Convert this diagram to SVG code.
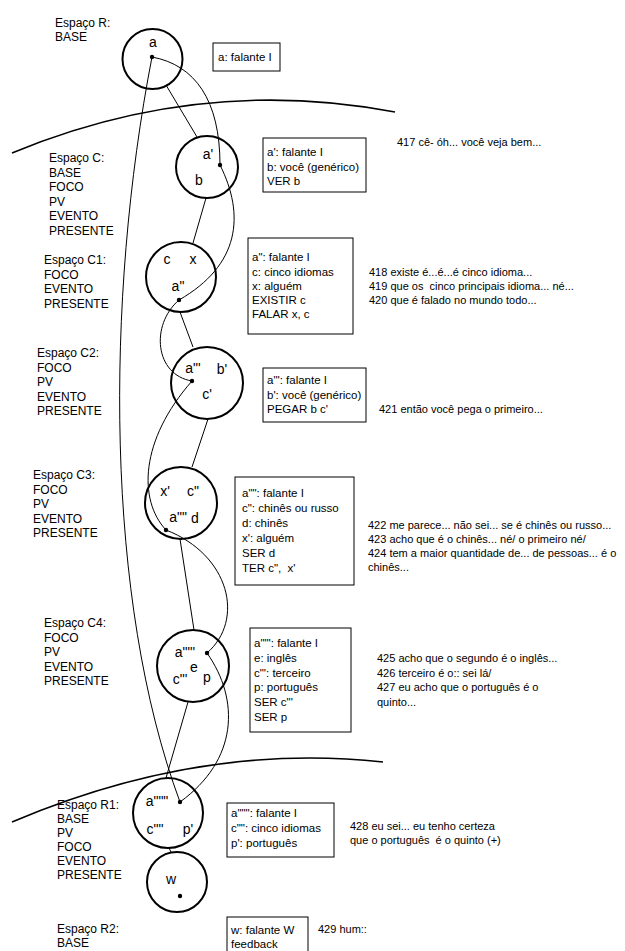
<svg xmlns="http://www.w3.org/2000/svg" width="625" height="951" viewBox="0 0 625 951">
<style>
text{font-family:"Liberation Sans",Arial,sans-serif;fill:#000;white-space:pre}
.lab{font-size:12px}
.box{font-size:11.5px}
.tr{font-size:11px}
.cl{font-size:14px;text-anchor:middle}
.sp{fill:none;stroke:#000;stroke-width:2}
.bx{fill:none;stroke:#000;stroke-width:1}
.arc{fill:none;stroke:#000;stroke-width:1.6}
.cn{fill:none;stroke:#000;stroke-width:1}
.dot{fill:#000}
</style>
<rect width="625" height="951" fill="#fff"/>
<g id="boundaries">
<path class="arc" d="M12,153 Q200,75 395,112"/>
<path class="arc" d="M12,822 Q200,742 383,762"/>
</g>
<g id="connectors">
<path class="cn" d="M152,57 C105,300 105,600 180,802"/>
<path class="cn" d="M152,57 C195,65 220,100 220,165"/>
<path class="cn" d="M220,165 C245,215 240,265 179,300"/>
<path class="cn" d="M179,300 C150,325 155,375 192,381"/>
<path class="cn" d="M192,381 C140,440 138,500 166,530"/>
<path class="cn" d="M166,530 C230,555 245,620 207,653"/>
<path class="cn" d="M207,653 C240,700 238,760 180,802"/>
<line class="cn" x1="166" y1="85" x2="197" y2="137"/>
<line class="cn" x1="206" y1="198" x2="193" y2="243"/>
<line class="cn" x1="180" y1="312" x2="193" y2="347"/>
<line class="cn" x1="208" y1="419" x2="192" y2="467"/>
<line class="cn" x1="180" y1="539" x2="194" y2="630"/>
<line class="cn" x1="188" y1="702" x2="166" y2="778"/>
<line class="cn" x1="169" y1="848" x2="171" y2="852"/>
</g>
<g id="space-R">
<text class="lab" x="55" y="27">Espaço R:</text>
<text class="lab" x="55" y="41">BASE</text>
<circle class="sp" cx="152.5" cy="59" r="30"/>
<text class="cl" x="153" y="47">a</text>
<circle class="dot" cx="152" cy="57" r="2.2"/>
<rect class="bx" x="213" y="43" width="67" height="28"/>
<text class="box" x="218" y="61">a: falante I</text>
</g>
<g id="space-C">
<text class="lab" x="49" y="162">Espaço C:</text>
<text class="lab" x="49" y="176.6">BASE</text>
<text class="lab" x="49" y="191.2">FOCO</text>
<text class="lab" x="49" y="205.8">PV</text>
<text class="lab" x="49" y="220.4">EVENTO</text>
<text class="lab" x="49" y="235">PRESENTE</text>
<circle class="sp" cx="207" cy="167" r="31"/>
<text class="cl" x="208" y="159">a'</text>
<text class="cl" x="199" y="185">b</text>
<circle class="dot" cx="220" cy="165" r="2.2"/>
<rect class="bx" x="263" y="138" width="103" height="54"/>
<text class="box" x="267" y="156">a': falante I</text>
<text class="box" x="267" y="171">b: você (genérico)</text>
<text class="box" x="267" y="185">VER b</text>
<text class="tr" x="397" y="146">417 cê- óh... você veja bem...</text>
</g>
<g id="space-C1">
<text class="lab" x="44" y="264">Espaço C1:</text>
<text class="lab" x="44" y="278.6">FOCO</text>
<text class="lab" x="44" y="293.2">EVENTO</text>
<text class="lab" x="44" y="307.8">PRESENTE</text>
<circle class="sp" cx="181" cy="277" r="35"/>
<text class="cl" x="167" y="264">c</text>
<text class="cl" x="193" y="264">x</text>
<text class="cl" x="178" y="291">a"</text>
<circle class="dot" cx="179" cy="300" r="2.2"/>
<rect class="bx" x="248" y="238" width="105" height="96"/>
<text class="box" x="252" y="261">a": falante I</text>
<text class="box" x="252" y="276">c: cinco idiomas</text>
<text class="box" x="252" y="290">x: alguém</text>
<text class="box" x="252" y="304">EXISTIR c</text>
<text class="box" x="252" y="318">FALAR x, c</text>
<text class="tr" x="369" y="276">418 existe é...é...é cinco idioma...</text>
<text class="tr" x="369" y="290">419 que os  cinco principais idioma... né...</text>
<text class="tr" x="369" y="304">420 que é falado no mundo todo...</text>
</g>
<g id="space-C2">
<text class="lab" x="37" y="357">Espaço C2:</text>
<text class="lab" x="37" y="371.6">FOCO</text>
<text class="lab" x="37" y="386.2">PV</text>
<text class="lab" x="37" y="400.8">EVENTO</text>
<text class="lab" x="37" y="415.4">PRESENTE</text>
<circle class="sp" cx="207" cy="383" r="36"/>
<text class="cl" x="193" y="373">a"'</text>
<text class="cl" x="222" y="374">b'</text>
<text class="cl" x="207" y="399">c'</text>
<circle class="dot" cx="192" cy="381" r="2.2"/>
<rect class="bx" x="263" y="368" width="103" height="54"/>
<text class="box" x="267" y="384">a"': falante I</text>
<text class="box" x="267" y="399">b': você (genérico)</text>
<text class="box" x="267" y="413">PEGAR b c'</text>
<text class="tr" x="379" y="413">421 então você pega o primeiro...</text>
</g>
<g id="space-C3">
<text class="lab" x="33" y="479">Espaço C3:</text>
<text class="lab" x="33" y="493.6">FOCO</text>
<text class="lab" x="33" y="508.2">PV</text>
<text class="lab" x="33" y="522.8">EVENTO</text>
<text class="lab" x="33" y="537.4">PRESENTE</text>
<circle class="sp" cx="181" cy="503" r="36"/>
<text class="cl" x="165" y="496">x'</text>
<text class="cl" x="193" y="496">c"</text>
<text class="cl" x="178" y="522">a""</text>
<text class="cl" x="195" y="523">d</text>
<circle class="dot" cx="166" cy="530" r="2.2"/>
<rect class="bx" x="235" y="477" width="119" height="108"/>
<text class="box" x="242" y="497">a"": falante I</text>
<text class="box" x="242" y="512">c": chinês ou russo</text>
<text class="box" x="242" y="527">d: chinês</text>
<text class="box" x="242" y="542">x': alguém</text>
<text class="box" x="242" y="557">SER d</text>
<text class="box" x="242" y="572">TER c",  x'</text>
<text class="tr" x="368" y="529">422 me parece... não sei... se é chinês ou russo...</text>
<text class="tr" x="368" y="543">423 acho que é o chinês... né/ o primeiro né/</text>
<text class="tr" x="368" y="557">424 tem a maior quantidade de... de pessoas... é o</text>
<text class="tr" x="368" y="571">chinês...</text>
</g>
<g id="space-C4">
<text class="lab" x="44" y="627">Espaço C4:</text>
<text class="lab" x="44" y="641.6">FOCO</text>
<text class="lab" x="44" y="656.2">PV</text>
<text class="lab" x="44" y="670.8">EVENTO</text>
<text class="lab" x="44" y="685.4">PRESENTE</text>
<circle class="sp" cx="193" cy="666" r="36"/>
<text class="cl" x="185" y="657">a""'</text>
<text class="cl" x="194" y="672">e</text>
<text class="cl" x="180" y="684">c"'</text>
<text class="cl" x="207" y="682">p</text>
<circle class="dot" cx="207" cy="653" r="2.2"/>
<rect class="bx" x="250" y="628" width="101" height="104"/>
<text class="box" x="254" y="647">a""': falante I</text>
<text class="box" x="254" y="662">e: inglês</text>
<text class="box" x="254" y="677">c"': terceiro</text>
<text class="box" x="254" y="691">p: português</text>
<text class="box" x="254" y="706">SER c"'</text>
<text class="box" x="254" y="721">SER p</text>
<text class="tr" x="377" y="662">425 acho que o segundo é o inglês...</text>
<text class="tr" x="377" y="677">426 terceiro é o:: sei lá/</text>
<text class="tr" x="377" y="691">427 eu acho que o português é o</text>
<text class="tr" x="377" y="706">quinto...</text>
</g>
<g id="space-R1">
<text class="lab" x="57" y="809">Espaço R1:</text>
<text class="lab" x="57" y="823">BASE</text>
<text class="lab" x="57" y="837">PV</text>
<text class="lab" x="57" y="851">FOCO</text>
<text class="lab" x="57" y="865">EVENTO</text>
<text class="lab" x="57" y="879">PRESENTE</text>
<circle class="sp" cx="168" cy="813" r="35"/>
<text class="cl" x="157" y="806">a"""</text>
<text class="cl" x="155" y="834">c""</text>
<text class="cl" x="188" y="834">p'</text>
<circle class="dot" cx="180" cy="802" r="2.2"/>
<rect class="bx" x="227" y="803" width="107" height="54"/>
<text class="box" x="231" y="817">a""": falante I</text>
<text class="box" x="231" y="832">c"": cinco idiomas</text>
<text class="box" x="231" y="847">p': português</text>
<text class="tr" x="350" y="830">428 eu sei... eu tenho certeza</text>
<text class="tr" x="350" y="844">que o português  é o quinto (+)</text>
</g>
<g id="space-R2">
<text class="lab" x="57" y="933">Espaço R2:</text>
<text class="lab" x="57" y="947">BASE</text>
<circle class="sp" cx="177" cy="882" r="30"/>
<text class="cl" x="171" y="884">w</text>
<circle class="dot" cx="180" cy="896" r="2.2"/>
<rect class="bx" x="227" y="917" width="81" height="50"/>
<text class="box" x="231" y="934">w: falante W</text>
<text class="box" x="231" y="948">feedback</text>
<text class="tr" x="318" y="933">429 hum::</text>
</g>
</svg>
